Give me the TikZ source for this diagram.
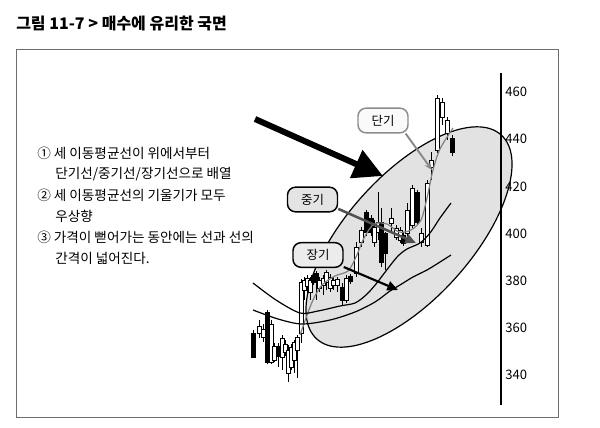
\documentclass[tikz,border=0pt]{standalone}
\usepackage{fontspec}
\setmainfont{Noto Sans CJK KR}
\usepackage{tikz}
\usetikzlibrary{arrows.meta}

\begin{document}
\begin{tikzpicture}[x=0.75pt,y=0.75pt,yscale=-1,xscale=1,
    tag/.style={draw,rounded corners=6pt,line width=1.1pt,minimum width=37.5pt,minimum height=18.5pt,inner sep=1pt,font=\fontsize{9.3}{11}\selectfont},
    note/.style={anchor=west,inner sep=0pt,font=\fontsize{10.2}{12}\selectfont},
    tick/.style={anchor=west,inner sep=0pt,font=\fontsize{9.8}{11}\selectfont},
    ma/.style={line width=0.9pt}]
                \useasboundingbox (0,0) rectangle (600,428);

                % Text Node
                \node [anchor=west,inner sep=0pt,font=\bfseries\fontsize{12}{14}\selectfont] (title) at (16,24) {그림 11-7 > 매수에 유리한 국면};
                %Shape: Rectangle
                \draw [color={rgb, 255:red, 110; green, 110; blue, 110 },line width=0.7pt] (16,49) rectangle (558,417);

                % Text Node
                \node [note] (n1) at (37,153) {① 세 이동평균선이 위에서부터};
                \node [note] (n2) at (55,174) {단기선/중기선/장기선으로 배열};
                \node [note] (n3) at (37,195) {② 세 이동평균선의 기울기가 모두};
                \node [note] (n4) at (55,216) {우상향};
                \node [note] (n5) at (37,237) {③ 가격이 뻗어가는 동안에는 선과 선의};
                \node [note] (n6) at (55,258) {간격이 넓어진다.};

                %Shape: Ellipse
                \draw [fill={rgb, 255:red, 226; green, 226; blue, 226 },line width=0.9pt,rotate around={-47.9:(409,237)}] (409,237) ellipse [x radius=137.5, y radius=62];

                %Shape: Candles
                \foreach \x/\a/\b/\c/\d/\f in {253.5/333/357/330/358/black, 259/326/333/320/338/white, 263/329/337/324/342/white,
                    267/312/362/310/364/black, 271/324/362/320/364/white, 274.5/346/360/343/362/white, 278/346/356/343/367/black,
                    282/338/357/335/370/white, 285.5/344/352/340/356/white, 288.5/350/373/345/382/white, 291/347/367/344/370/white,
                    294/342/360/340/373/white, 297.5/337/350/335/378/white, 301/282/333/279/343/white, 304/280/290/277/300/white,
                    307/278/286/275/293/white, 310/280/292/277/300/white, 313/275/282/273/285/black, 316/273/280/271/300/black,
                    319.5/280/288/277/292/white, 323/278/285/275/295/white, 326.5/272/282/270/290/white, 330/277/288/274/292/white,
                    333.5/280/285/277/290/white, 337/279/285/277/292/white, 342/287/300/283/305/black, 346/278/300/275/303/white,
                    350/276/281/274/284/black, 356/247/273/242/277/white, 361/230/242/227/247/white, 366/212/232/210/236/black,
                    371/218/232/215/236/black, 374.5/227/242/220/247/white, 378/222/232/192/240/white, 381.5/222/262/208/267/black,
                    385.5/233/253/232/270/black, 391/218/223/208/233/white, 396/228/237/225/240/white, 400/230/240/227/243/white,
                    403.5/235/243/232/246/black, 407.5/210/233/203/237/white, 412/188/225/185/228/white, 417/192/222/190/225/black,
                    421.5/233/242/228/247/white, 427/183/245/180/247/white, 431.5/160/167/152/180/white, 437/98/150/95/153/white,
                    442/102/117/98/125/white, 447/120/133/117/140/white, 452/138/152/135/156/black}
                {
                    \draw [line width=0.6pt] (\x,\c) -- (\x,\d);
                    \draw [fill=\f,line width=0.45pt] (\x-1.8,\a) rectangle (\x+1.8,\b);
                }

                %Curve Lines: short, middle and long averages
                \draw [ma,color={rgb, 255:red, 128; green, 128; blue, 128 }] plot [smooth] coordinates {(300,335) (306,318) (313,300) (322,285) (335,276) (348,271) (356,257) (364,238) (374,224) (387,224) (399,232) (411,230) (421,220) (427,198) (433,170) (440,149) (453,128)};
                \draw [ma] plot [smooth] coordinates {(253,283) (276,300) (300,313) (318,311) (340,306) (355,303) (366,295) (376,284) (389,267) (398,256) (407,249) (420,243) (430,233) (440,218) (451,203)};
                \draw [ma] plot [smooth] coordinates {(253,310) (278,319) (302,324) (330,320) (355,312) (375,302) (390,291) (400,285) (413,277) (427,270) (440,262) (451,255)};

                %Straight Lines: price axis
                \draw [line width=1.5pt] (501,73) -- (501,405);
                % Text Node
                \foreach \v [count=\i from 0] in {460,440,...,340}
                    \node [tick] (y\v) at (505,{92+47.2*\i}) {\v};

                % Text Node
                \node [tag,draw={rgb, 255:red, 140; green, 140; blue, 140 },fill={rgb, 255:red, 250; green, 250; blue, 250 }] (short) at (383,120.5) {단기};
                \node [tag,fill={rgb, 255:red, 228; green, 228; blue, 228 }] (mid) at (312.5,199.5) {중기};
                \node [tag,fill={rgb, 255:red, 236; green, 236; blue, 236 }] (long) at (318,255) {장기};

                \coordinate (bigtail) at (255,119);
                \coordinate (bigtip) at (383,176);
                \coordinate (shortend) at (432,170);
                \coordinate (midend) at (416,243);
                \coordinate (longend) at (398,290);

                %Straight Lines
                \draw [line width=4.5pt,-{Triangle[length=22pt,width=22pt]}] (bigtail) -- (bigtip);
                \draw [color={rgb, 255:red, 135; green, 135; blue, 135 },line width=1.4pt,-{Stealth[length=6pt,width=5pt]}] (short.-30) -- (shortend);
                \draw [color={rgb, 255:red, 80; green, 80; blue, 80 },line width=1.9pt,-{Triangle[length=8pt,width=7pt]}] (mid.-20) -- (midend);
                \draw [line width=1.6pt,-{Triangle[length=8pt,width=7pt]}] (long.-25) -- (longend);

\end{tikzpicture}
\end{document}
